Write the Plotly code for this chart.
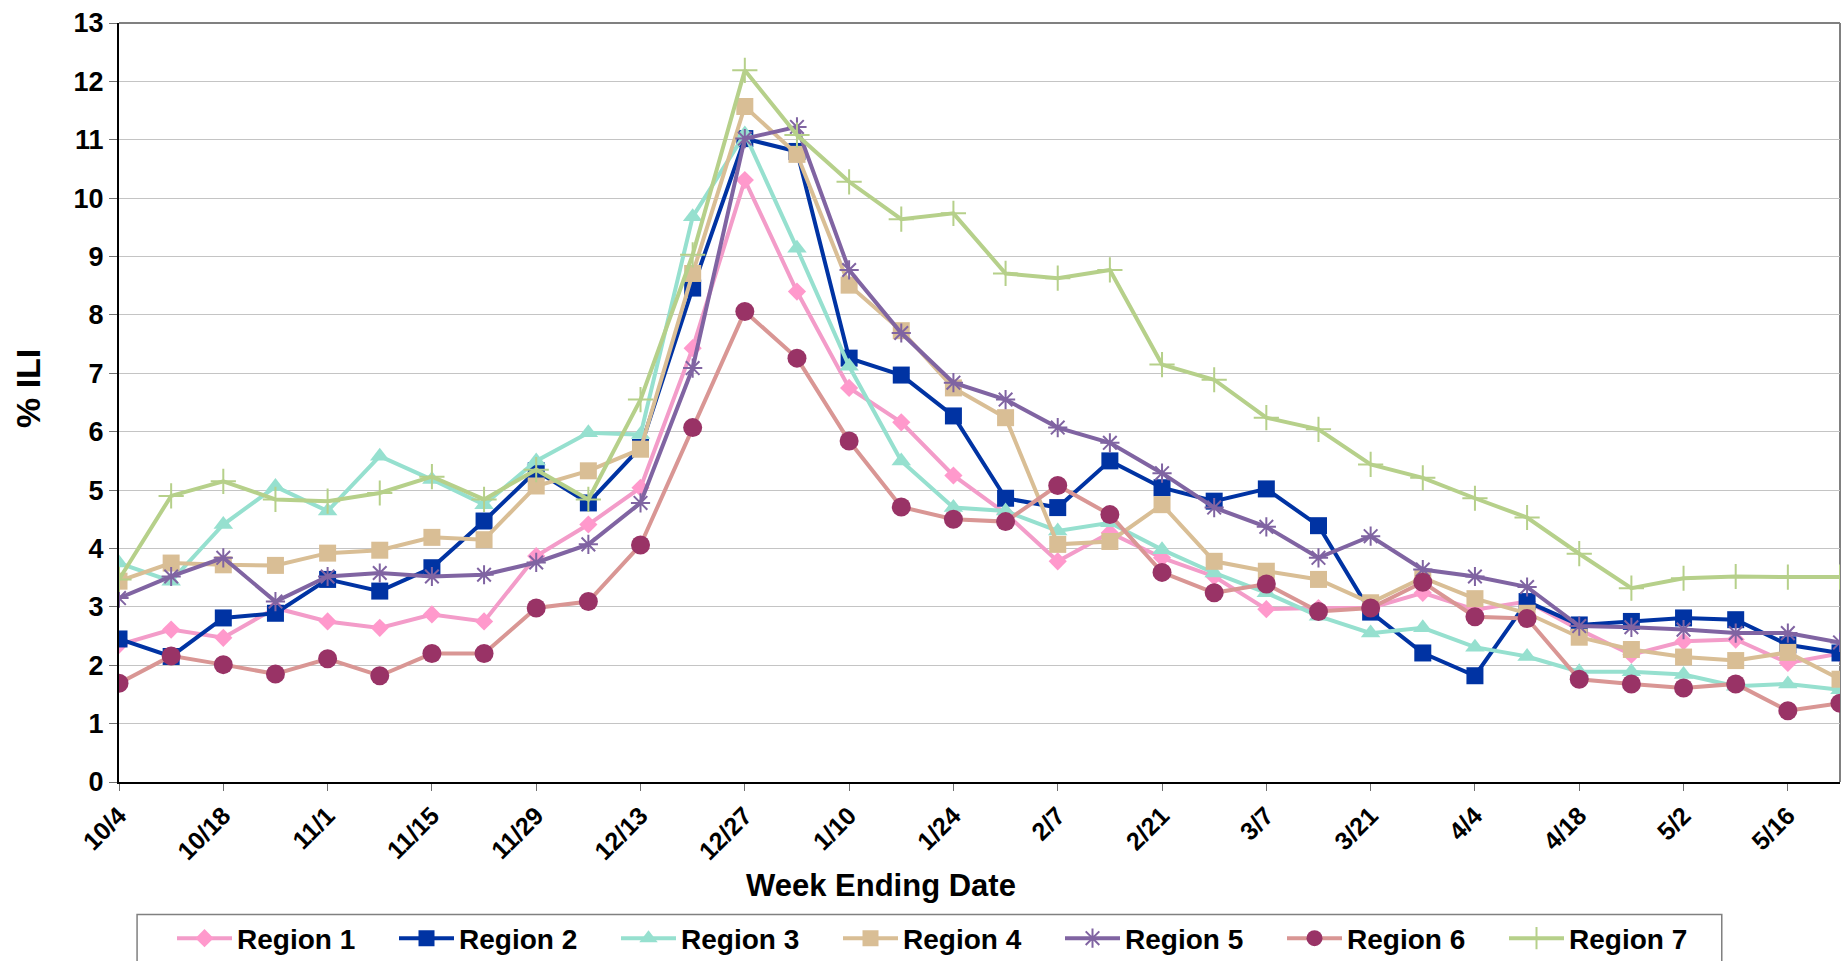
import plotly.graph_objects as go

# Week ending dates, October through May
weeks = ["10/4", "10/11", "10/18", "10/25", "11/1", "11/8", "11/15", "11/22",
         "11/29", "12/6", "12/13", "12/20", "12/27", "1/3", "1/10", "1/17",
         "1/24", "1/31", "2/7", "2/14", "2/21", "2/28", "3/7", "3/14",
         "3/21", "3/28", "4/4", "4/11", "4/18", "4/25", "5/2", "5/9",
         "5/16", "5/23"]

# Percent influenza-like illness by region
region1 = [2.35, 2.61, 2.47, 2.98, 2.75, 2.64, 2.87, 2.75, 3.87, 4.41, 5.04, 7.43,
           10.31, 8.40, 6.75, 6.16, 5.25, 4.60, 3.78, 4.27, 3.84, 3.52, 2.96, 2.98,
           2.98, 3.24, 2.95, 3.09, 2.61, 2.18, 2.41, 2.44, 2.04, 2.20]
region2 = [2.45, 2.15, 2.81, 2.89, 3.47, 3.27, 3.67, 4.47, 5.33, 4.78, 5.73, 8.46,
           11.02, 10.80, 7.26, 6.97, 6.27, 4.86, 4.70, 5.50, 5.04, 4.81, 5.02, 4.39,
           2.91, 2.21, 1.82, 3.09, 2.69, 2.75, 2.81, 2.78, 2.35, 2.21]
region3 = [3.75, 3.44, 4.41, 5.06, 4.64, 5.58, 5.18, 4.75, 5.50, 5.98, 5.95, 9.68,
           11.10, 9.14, 7.12, 5.50, 4.70, 4.64, 4.30, 4.44, 3.98, 3.58, 3.24, 2.84,
           2.55, 2.64, 2.31, 2.15, 1.89, 1.89, 1.84, 1.64, 1.68, 1.58]
region4 = [3.44, 3.75, 3.72, 3.71, 3.92, 3.97, 4.19, 4.15, 5.07, 5.33, 5.70, 8.71,
           11.57, 10.75, 8.51, 7.73, 6.75, 6.24, 4.07, 4.12, 4.75, 3.78, 3.61, 3.47,
           3.07, 3.50, 3.14, 2.89, 2.48, 2.27, 2.14, 2.08, 2.22, 1.76]
region5 = [3.15, 3.52, 3.84, 3.09, 3.52, 3.58, 3.52, 3.55, 3.76, 4.07, 4.78, 7.09,
           11.02, 11.22, 8.77, 7.69, 6.84, 6.55, 6.07, 5.81, 5.29, 4.70, 4.37, 3.84,
           4.21, 3.64, 3.52, 3.34, 2.67, 2.65, 2.61, 2.55, 2.55, 2.39]
region6 = [1.69, 2.16, 2.01, 1.85, 2.11, 1.82, 2.20, 2.20, 2.98, 3.09, 4.06, 6.07,
           8.06, 7.26, 5.84, 4.71, 4.50, 4.46, 5.08, 4.58, 3.59, 3.24, 3.39, 2.92,
           2.98, 3.42, 2.83, 2.80, 1.76, 1.68, 1.61, 1.68, 1.22, 1.35]
region7 = [3.47, 4.90, 5.15, 4.84, 4.81, 4.95, 5.23, 4.84, 5.35, 4.84, 6.55, 9.03,
           12.19, 11.08, 10.28, 9.64, 9.74, 8.71, 8.63, 8.77, 7.15, 6.89, 6.24, 6.04,
           5.44, 5.21, 4.86, 4.53, 3.91, 3.32, 3.49, 3.52, 3.51, 3.51]

y_ticks = list(range(0, 14))
x_ticks = weeks[::2]

FONT = "Liberation Sans"

series = [
    # name, values, line colour, marker symbol, marker colour, marker size, outline width
    ("Region 1", region1, "#F39CC9", "diamond", "#FF99CC", 14, 0),
    ("Region 2", region2, "#0033A3", "square", "#0033A3", 17, 0),
    ("Region 3", region3, "#96E0CF", "triangle-up", "#96E0CF", 17, 0),
    ("Region 4", region4, "#D9BE95", "square", "#D9BE95", 17, 0),
    ("Region 5", region5, "#8064A2", "asterisk", "#8064A2", 16, 2),
    ("Region 6", region6, "#D99694", "circle", "#993366", 19, 0),
    ("Region 7", region7, "#B6D08A", "cross-thin", "#B6D08A", 18, 2),
]

fig = go.Figure()
for name, vals, lcol, sym, mcol, msize, mlw in series:
    fig.add_trace(go.Scatter(
        x=weeks, y=vals, name=name, mode="lines+markers",
        line=dict(color=lcol, width=4),
        marker=dict(symbol=sym, color=mcol, size=msize,
                    line=dict(color=mcol, width=mlw)),
    ))

fig.update_layout(
    width=1846, height=961,
    margin=dict(l=119, r=6, t=23, b=179, autoexpand=False),
    paper_bgcolor="white", plot_bgcolor="white",
    font=dict(family=FONT, color="black", size=22, weight="bold"),
    showlegend=True,
    legend=dict(
        orientation="h", x=0.0308, xanchor="left", y=-0.1732, yanchor="top",
        font=dict(family=FONT, size=28, weight="bold", color="black"),
        itemwidth=55, entrywidth=152, entrywidthmode="pixels",
        bgcolor="rgba(0,0,0,0)", traceorder="normal",
    ),
    xaxis=dict(
        type="category", range=[0, len(weeks) - 1], automargin=False,
        tickmode="array", tickvals=x_ticks, ticktext=x_ticks,
        tickangle=-45, tickfont=dict(family=FONT, size=25, weight="bold"),
        ticks="outside", ticklen=7, tickcolor="#707070", tickwidth=1,
        showgrid=False, showline=True, linecolor="black", linewidth=2,
        zeroline=False,
    ),
    yaxis=dict(
        range=[0, 13], tickvals=y_ticks, automargin=False,
        tickfont=dict(family=FONT, size=27, weight="bold"),
        ticks="outside", ticklen=8, tickcolor="#707070", tickwidth=1,
        showgrid=True, gridcolor="#C4C4C4", gridwidth=1,
        showline=True, linecolor="black", linewidth=2, zeroline=False,
    ),
    shapes=[
        # frame on the top and right edges of the plot area
        dict(type="line", xref="paper", yref="paper", x0=0, x1=1, y0=1, y1=1,
             line=dict(color="#808080", width=2), layer="below"),
        dict(type="line", xref="paper", yref="paper", x0=1, x1=1, y0=0, y1=1,
             line=dict(color="#808080", width=2), layer="below"),
        # legend box
        dict(type="rect", xref="paper", yref="paper",
             x0=0.0105, x1=0.9313, y0=-0.26, y1=-0.1745,
             line=dict(color="#808080", width=1.5), fillcolor="rgba(0,0,0,0)"),
    ],
    annotations=[
        dict(text="% ILI", xref="paper", yref="paper", x=-0.0529, y=0.519,
             xanchor="center", yanchor="middle", textangle=-90, showarrow=False,
             font=dict(family=FONT, size=34, weight="bold")),
        dict(text="Week Ending Date", xref="paper", yref="paper", x=0.4425,
             y=-0.137, xanchor="center", yanchor="middle", showarrow=False,
             font=dict(family=FONT, size=31, weight="bold")),
    ],
)

fig.write_html("out.html")
